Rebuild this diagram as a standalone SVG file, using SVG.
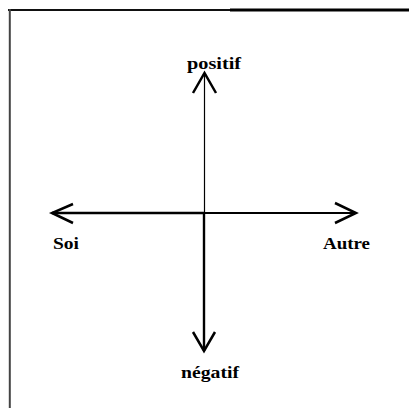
<svg xmlns="http://www.w3.org/2000/svg" width="409" height="408" viewBox="0 0 409 408">
<style>
.lbl{font-family:"Liberation Serif","Times New Roman",serif;font-weight:bold;font-size:16px;fill:#000}
.ax{stroke:#000;fill:none;stroke-linecap:butt}
.head{stroke:#000;fill:none;stroke-width:2.5;stroke-linejoin:miter}
</style>
<rect width="409" height="408" fill="#fff"/>
<g id="frame">
<line x1="8" y1="10" x2="231" y2="10" stroke="#111" stroke-width="2.2"/>
<line x1="230" y1="10" x2="409" y2="10" stroke="#000" stroke-width="3"/>
<line x1="9.8" y1="9" x2="9.8" y2="408" stroke="#444" stroke-width="2"/>
</g>
<g id="connectors">
<line class="ax" x1="204.5" y1="74" x2="204.5" y2="213" stroke-width="1.2" stroke="#333"/>
<line class="ax" x1="204" y1="213" x2="204" y2="351" stroke-width="2.4"/>
<line class="ax" x1="52" y1="213" x2="204" y2="213" stroke-width="2.6"/>
<line class="ax" x1="204" y1="213" x2="356" y2="213" stroke-width="2"/>
<polyline class="head" points="73,204 52,213 73,223"/>
<polyline class="head" points="335,203 356,213 335,223"/>
<polyline class="head" points="193,93 204.5,73 216,93"/>
<polyline class="head" points="193,332 204,351 215,332"/>
</g>
<g id="positif"><text class="lbl" x="187" y="69" textLength="54" lengthAdjust="spacingAndGlyphs">positif</text></g>
<g id="soi"><text class="lbl" x="53" y="249" textLength="26" lengthAdjust="spacingAndGlyphs">Soi</text></g>
<g id="autre"><text class="lbl" x="323" y="249" textLength="47" lengthAdjust="spacingAndGlyphs">Autre</text></g>
<g id="negatif"><text class="lbl" x="181" y="378" textLength="58" lengthAdjust="spacingAndGlyphs">négatif</text></g>
</svg>
